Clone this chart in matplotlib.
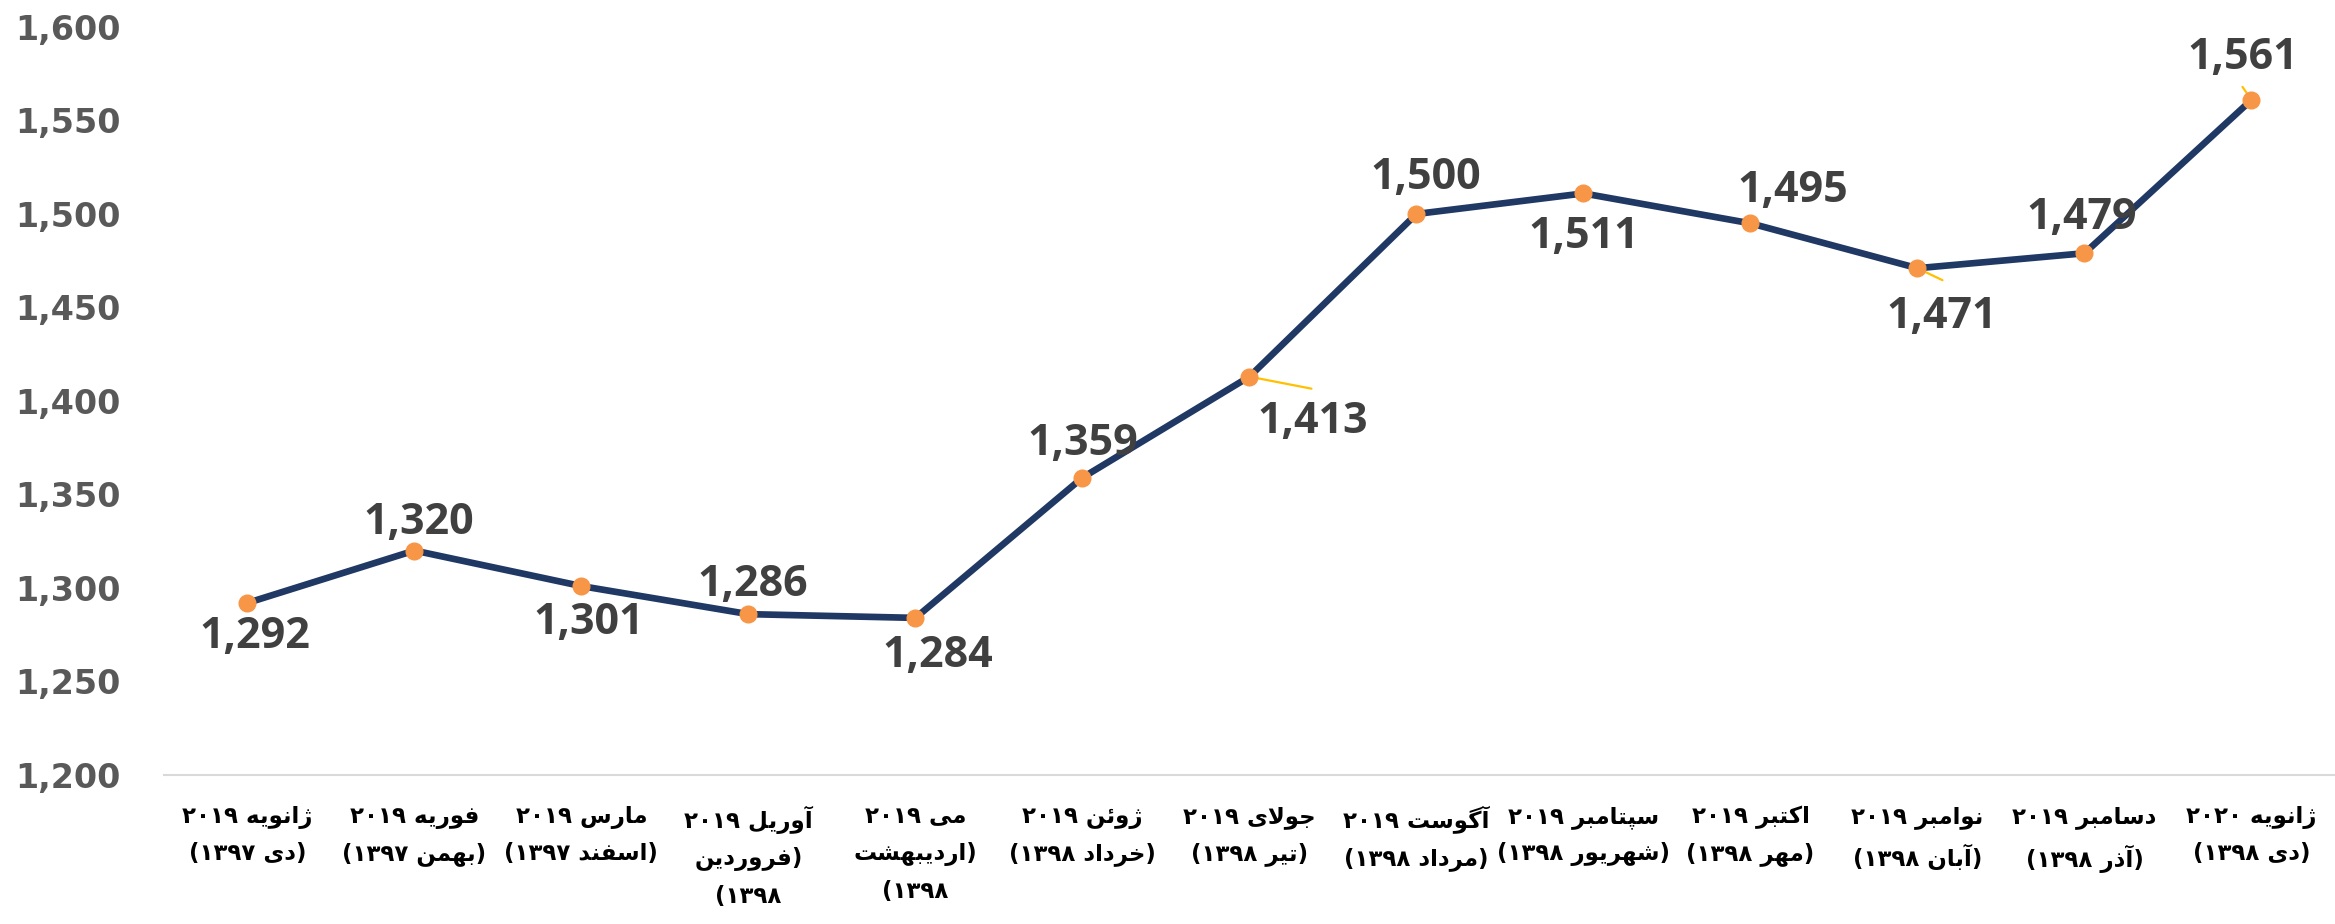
import matplotlib
matplotlib.use("Agg")
import matplotlib.pyplot as plt

# data
months = ['ژانویه ۲۰۱۹\n(دی ۱۳۹۷)', 'فوریه ۲۰۱۹\n(بهمن ۱۳۹۷)', 'مارس ۲۰۱۹\n(اسفند ۱۳۹۷)',
          'آوریل ۲۰۱۹\n(فروردین\n۱۳۹۸)', 'می ۲۰۱۹\n(اردیبهشت\n۱۳۹۸)', 'ژوئن ۲۰۱۹\n(خرداد ۱۳۹۸)',
          'جولای ۲۰۱۹\n(تیر ۱۳۹۸)', 'آگوست ۲۰۱۹\n(مرداد ۱۳۹۸)', 'سپتامبر ۲۰۱۹\n(شهریور ۱۳۹۸)',
          'اکتبر ۲۰۱۹\n(مهر ۱۳۹۸)', 'نوامبر ۲۰۱۹\n(آبان ۱۳۹۸)', 'دسامبر ۲۰۱۹\n(آذر ۱۳۹۸)',
          'ژانویه ۲۰۲۰\n(دی ۱۳۹۸)']
values = [1292, 1320, 1301, 1286, 1284, 1359, 1413, 1500, 1511, 1495, 1471, 1479, 1561]
yticks = [1200, 1250, 1300, 1350, 1400, 1450, 1500, 1550, 1600]

# label offsets in pixels (dx, dy), and which ones get a leader line
lab_off = [(7, -34), (4, 28), (7, -36), (4, 30), (22, -38), (0, 34), (63, -45),
           (9, 36), (0, -43), (42, 33), (24, -48), (-3, 36), (-9, 42)]
leader = {6: (62, -12), 10: (25, -12), 12: (-9, 13)}

# --- tiny persian shaper (matplotlib has no bidi / shaping) ---
F = {
    '\u0627': ('\uFE8D', '\uFE8E', None, None), '\u0622': ('\uFE81', '\uFE82', None, None),
    '\u0628': ('\uFE8F', '\uFE90', '\uFE91', '\uFE92'), '\u067E': ('\uFB56', '\uFB57', '\uFB58', '\uFB59'),
    '\u062A': ('\uFE95', '\uFE96', '\uFE97', '\uFE98'), '\u062C': ('\uFE9D', '\uFE9E', '\uFE9F', '\uFEA0'),
    '\u062E': ('\uFEA5', '\uFEA6', '\uFEA7', '\uFEA8'), '\u062F': ('\uFEA9', '\uFEAA', None, None),
    '\u0630': ('\uFEAB', '\uFEAC', None, None), '\u0631': ('\uFEAD', '\uFEAE', None, None),
    '\u0632': ('\uFEAF', '\uFEB0', None, None), '\u0698': ('\uFB8A', '\uFB8B', None, None),
    '\u0633': ('\uFEB1', '\uFEB2', '\uFEB3', '\uFEB4'), '\u0634': ('\uFEB5', '\uFEB6', '\uFEB7', '\uFEB8'),
    '\u0641': ('\uFED1', '\uFED2', '\uFED3', '\uFED4'), '\u0642': ('\uFED5', '\uFED6', '\uFED7', '\uFED8'),
    '\u06A9': ('\uFB8E', '\uFB8F', '\uFB90', '\uFB91'), '\u0643': ('\uFED9', '\uFEDA', '\uFEDB', '\uFEDC'),
    '\u06AF': ('\uFB92', '\uFB93', '\uFB94', '\uFB95'), '\u0644': ('\uFEDD', '\uFEDE', '\uFEDF', '\uFEE0'),
    '\u0645': ('\uFEE1', '\uFEE2', '\uFEE3', '\uFEE4'), '\u0646': ('\uFEE5', '\uFEE6', '\uFEE7', '\uFEE8'),
    '\u0647': ('\uFEE9', '\uFEEA', '\uFEEB', '\uFEEC'), '\u0648': ('\uFEED', '\uFEEE', None, None),
    '\u06CC': ('\uFBFC', '\uFBFD', '\uFBFE', '\uFBFF'), '\u064A': ('\uFEF1', '\uFEF2', '\uFEF3', '\uFEF4'),
    '\u0626': ('\uFE89', '\uFE8A', '\uFE8B', '\uFE8C'),
}


def dual(c):
    return c in F and F[c][2] is not None


def shape(word):
    out = []
    i = 0
    while i < len(word):
        c = word[i]
        prev = word[i - 1] if i > 0 else None
        jp = prev is not None and dual(prev)
        if c == '\u0644' and i + 1 < len(word) and word[i + 1] in '\u0627\u0622':
            a = word[i + 1]
            if a == '\u0627':
                out.append('\uFEFC' if jp else '\uFEFB')
            else:
                out.append('\uFEF6' if jp else '\uFEF5')
            i += 2
            continue
        nxt = word[i + 1] if i + 1 < len(word) else None
        jn = dual(c) and nxt is not None and nxt in F
        iso, fin, ini, med = F.get(c, (c, c, c, c))
        if jp and jn:
            g = med
        elif jp:
            g = fin
        elif jn:
            g = ini
        else:
            g = iso
        out.append(g)
        i += 1
    return ''.join(reversed(out))


def fa(text):
    lines = []
    for line in text.split('\n'):
        toks, cur, kind = [], '', None
        for ch in line:
            k = 'L' if ch in F else ('D' if ch.isdigit() else 'O')
            if k == kind and k != 'O':
                cur += ch
            else:
                if cur:
                    toks.append((kind, cur))
                cur, kind = ch, k
        if cur:
            toks.append((kind, cur))
        vis = ''
        for k, t in reversed(toks):
            if k == 'L':
                vis += shape(t)
            elif t == '(':
                vis += ')'
            elif t == ')':
                vis += '('
            else:
                vis += t
        lines.append(vis)
    return '\n'.join(lines)


fig = plt.figure(figsize=(23.35, 9.24), dpi=100)
ax = fig.add_axes([0.0702, 0.1613, 0.9298, 0.8095])

x = list(range(len(values)))
ax.plot(x, values, color='#1F3864', lw=4.8, marker='o', ms=12,
        mfc='#F79646', mec='#F79646', zorder=3, solid_joinstyle='round')

for i, v in enumerate(values):
    dx, dy = lab_off[i]
    ax.annotate(f'{v:,}', (i, v), xytext=(dx, dy), textcoords='offset pixels',
                ha='center', va='center', fontsize=31, fontweight='bold',
                family='Open Sans', color='#404040', zorder=4)
    if i in leader:
        lx, ly = leader[i]
        ax.annotate('', (i, v), xytext=(lx, ly), textcoords='offset pixels',
                    arrowprops=dict(arrowstyle='-', color='#FFC000', lw=1.6,
                                    shrinkA=0, shrinkB=0), zorder=2)

ax.set_xlim(-0.5, len(values) - 0.5)
ax.set_ylim(1200, 1600)
ax.set_yticks(yticks)
ax.set_yticklabels([f'{t:,}' for t in yticks], fontsize=24, fontweight='bold',
                   family='DejaVu Sans', color='#595959')
ax.set_xticks(x)
ax.set_xticklabels([fa(m) for m in months], fontsize=16.5, fontweight='bold',
                   family='DejaVu Sans', color='#000000', linespacing=1.75, va='top')

for s in ['top', 'right', 'left']:
    ax.spines[s].set_visible(False)
ax.spines['bottom'].set_color('#D9D9D9')
ax.spines['bottom'].set_linewidth(1.5)
ax.tick_params(axis='both', length=0)
ax.tick_params(axis='y', pad=31)
ax.tick_params(axis='x', pad=22)

fig.savefig('out.png', dpi=100)
